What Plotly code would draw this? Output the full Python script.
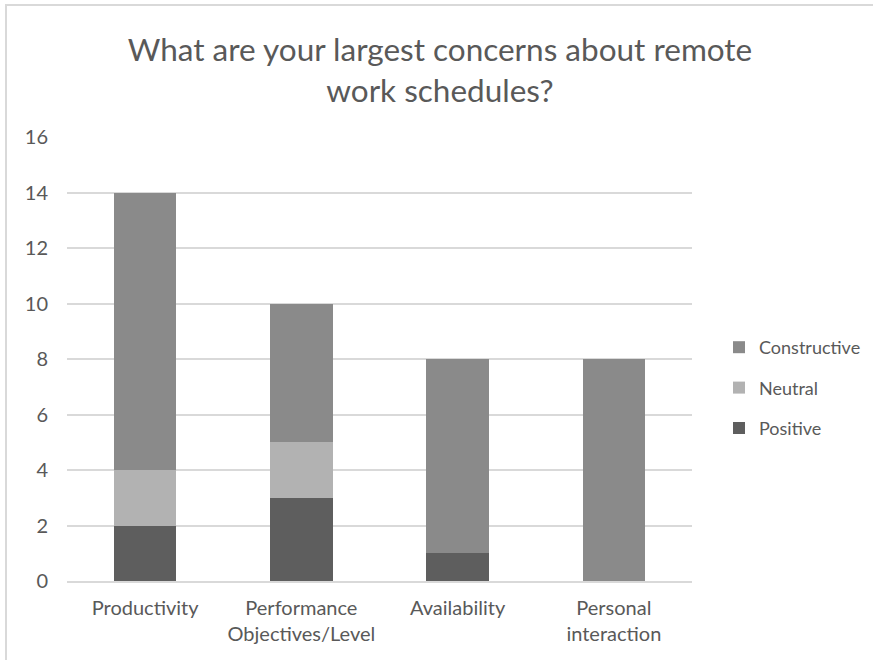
import plotly.graph_objects as go

categories = ["Productivity", "Performance<br>Objectives/Level", "Availability", "Personal<br>interaction"]
positive = [2, 3, 1, 0]
neutral = [2, 2, 0, 0]
constructive = [10, 5, 7, 8]
y_ticks = [0, 2, 4, 6, 8, 10, 12, 14, 16]

FONT = "Lato, Open Sans, sans-serif"
TXT = "#595959"

fig = go.Figure()
fig.add_bar(name="Positive", x=categories, y=positive, legendgroup="p", legendrank=3,
            marker=dict(color="#5e5e5e", line=dict(width=0)))
fig.add_bar(name="Neutral", x=categories, y=neutral, legendgroup="n", legendrank=2,
            marker=dict(color="#b2b2b2", line=dict(width=0)))
fig.add_bar(name="Constructive", x=categories, y=constructive, legendgroup="c", legendrank=1,
            marker=dict(color="#8a8a8a", line=dict(width=0)))

L, R, T, B = 67, 181, 137, 79
W, H = 873, 660
pw, ph = W - L - R, H - T - B

fig.update_layout(
    width=W, height=H,
    margin=dict(l=L, r=R, t=T, b=B, autoexpand=False),
    barmode="stack",
    bargap=0.6,
    paper_bgcolor="white", plot_bgcolor="white",
    font=dict(family=FONT, color=TXT, size=20),
    title=dict(text="What are your largest concerns about remote<br>work schedules?",
               x=440 / W, xanchor="center", y=1 - 61 / H, yanchor="middle",
               font=dict(size=31.5, color=TXT, family=FONT)),
    legend=dict(traceorder="grouped", x=(719 - L) / pw, xanchor="left",
                y=(H - B - 388) / ph, yanchor="middle",
                font=dict(size=18, color=TXT), itemsizing="constant",
                tracegroupgap=14, bgcolor="rgba(0,0,0,0)"),
    xaxis=dict(showgrid=False, showline=True, linecolor="#d9d9d9", linewidth=1.5,
               ticks="", tickfont=dict(size=20, color=TXT), ticklabelstandoff=8),
    yaxis=dict(range=[0, 16], tickvals=y_ticks, showgrid=True, gridcolor="#d9d9d9",
               gridwidth=1.5, zeroline=False, showline=False, ticks="",
               tickfont=dict(size=20, color=TXT), ticklabelstandoff=18),
    shapes=[
        dict(type="line", xref="paper", yref="paper",
             x0=(5 - L) / pw, x1=(W + 10 - L) / pw,
             y0=(H - B - 5) / ph, y1=(H - B - 5) / ph,
             line=dict(color="#d9d9d9", width=2)),
        dict(type="line", xref="paper", yref="paper",
             x0=(6 - L) / pw, x1=(6 - L) / pw,
             y0=(H - B - 5) / ph, y1=(H - B - H - 10) / ph,
             line=dict(color="#d9d9d9", width=2)),
    ],
)

fig.write_html("out.html", config={"displayModeBar": False},
               post_script="document.body.style.margin='0';document.body.style.overflow='hidden';")
